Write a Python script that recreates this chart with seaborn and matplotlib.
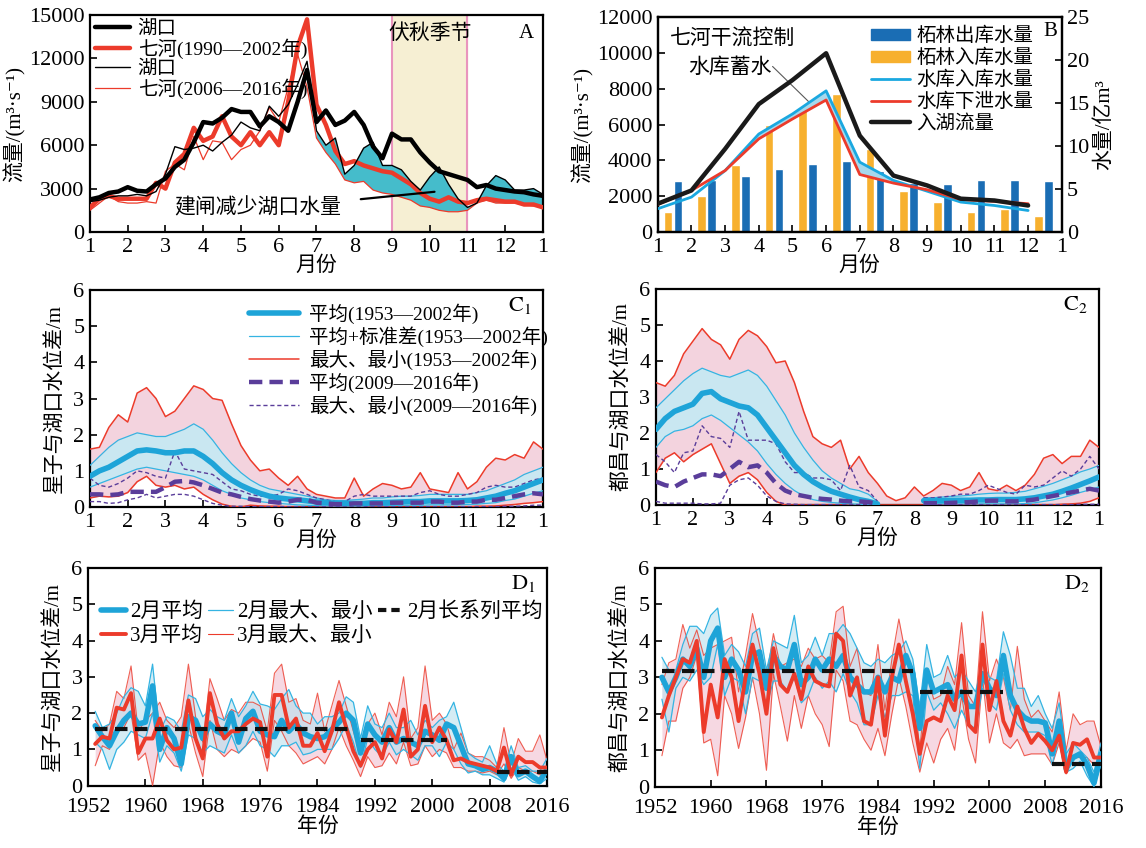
import numpy as np
import matplotlib
matplotlib.use("Agg")
import matplotlib.pyplot as plt
import seaborn as sns
from matplotlib.lines import Line2D
from matplotlib.patches import Patch

sns.set_theme(style="ticks")
plt.rcParams['font.family'] = ['Liberation Serif', 'Noto Sans CJK SC', 'DejaVu Sans']
plt.rcParams['mathtext.fontset'] = 'stix'
plt.rcParams['axes.unicode_minus'] = False
plt.rcParams['xtick.direction'] = 'in'
plt.rcParams['ytick.direction'] = 'in'
plt.rcParams['axes.edgecolor'] = 'black'
plt.rcParams['text.color'] = 'black'
plt.rcParams['axes.labelcolor'] = 'black'
plt.rcParams['xtick.color'] = 'black'
plt.rcParams['ytick.color'] = 'black'
plt.rcParams['axes.linewidth'] = 1.6

nan = np.nan

# ---------------- data ----------------
month_pos = [1.0, 1.25, 1.5, 1.75, 2.0, 2.25, 2.5, 2.75, 3.0, 3.25, 3.5, 3.75, 4.0, 4.25, 4.5, 4.75,
             5.0, 5.25, 5.5, 5.75, 6.0, 6.25, 6.5, 6.75, 7.0, 7.25, 7.5, 7.75, 8.0, 8.25, 8.5, 8.75,
             9.0, 9.25, 9.5, 9.75, 10.0, 10.25, 10.5, 10.75, 11.0, 11.25, 11.5, 11.75, 12.0, 12.25,
             12.5, 12.75, 13.0]
month_ticks = [1, 2, 3, 4, 5, 6, 7, 8, 9, 10, 11, 12, 13]
month_labels = ['1', '2', '3', '4', '5', '6', '7', '8', '9', '10', '11', '12', '1']

# Panel A (flow, m3/s)
hukou_90 = [2250, 2400, 2700, 2800, 3100, 2850, 2800, 3300, 3700, 4500, 5000, 6200, 7600, 7500, 7900, 8500,
            8300, 8300, 7300, 8000, 7600, 7000, 9000, 11200, 7600, 8400, 7400, 7700, 8300, 7400, 5900, 5100,
            6800, 6400, 6400, 5500, 4800, 4200, 4000, 3800, 3600, 3100, 3250, 3000, 2900, 2800, 2750, 2600, 2500]
qihe_90 = [1700, 2300, 2500, 2300, 2300, 2300, 2300, 3400, 3000, 4800, 5400, 7200, 6300, 6600, 8000, 6600,
           6000, 6900, 6000, 6900, 6000, 9000, 12800, 14700, 8800, 7400, 5600, 4700, 4900, 4600, 4400, 4200,
           4100, 3700, 3300, 2700, 2300, 2100, 2400, 2100, 2000, 2200, 2300, 2200, 2100, 2100, 1900, 1900, 1700]
hukou_06 = [2100, 2200, 2400, 2500, 2500, 2600, 2500, 2800, 4000, 5900, 5700, 5800, 6000, 5600, 6200, 6700,
            7600, 7200, 7000, 8700, 8000, 8800, 10200, 11800, 7000, 6000, 6500, 4000, 4600, 5800, 6200, 4600,
            4600, 4300, 3500, 2900, 3800, 4500, 3300, 2300, 1700, 2000, 3200, 3900, 3600, 2900, 2900, 3000, 2600]
qihe_06 = [1500, 2000, 2500, 2100, 2000, 2000, 2100, 2000, 4200, 4700, 4300, 6600, 5000, 6300, 6200, 5000,
           5700, 6000, 7000, 8600, 7600, 10000, 12300, 10000, 6500, 5500, 4700, 3600, 3400, 3500, 2900, 2700,
           2600, 2400, 2200, 1800, 1700, 1500, 1400, 1400, 1500, 2000, 2200, 2000, 2000, 2000, 1900, 1800, 1800]

# Panel B
months_b = [1, 2, 3, 4, 5, 6, 7, 8, 9, 10, 11, 12]
zl_out = [5.9, 6.05, 6.55, 7.3, 7.95, 8.25, 7.15, 5.7, 5.55, 6.1, 6.0, 5.9]      # 亿m3
zl_in = [2.3, 4.2, 7.8, 12.5, 14.2, 16.1, 9.7, 4.75, 3.5, 2.3, 2.65, 1.9]        # 亿m3
res_in = [1300, 1950, 3430, 5470, 6590, 7880, 3900, 2880, 2280, 1670, 1480, 1200]
res_out = [1540, 2320, 3430, 5200, 6310, 7370, 3210, 2730, 2360, 1820, 1710, 1580]
lake_in = [1580, 2320, 4640, 7140, 8480, 9980, 5380, 3150, 2600, 1860, 1760, 1480]

# Panel C1 (星子-湖口)
c1_max = [1.6, 1.65, 2.2, 2.55, 2.35, 3.15, 3.3, 3.0, 2.5, 2.65, 3.0, 3.35, 3.25, 3.0, 2.95, 2.3,
          1.7, 1.3, 1.0, 1.05, 0.8, 0.6, 0.85, 0.5, 0.35, 0.3, 0.25, 0.25, 0.8, 0.3, 0.5, 0.65,
          0.6, 0.5, 0.55, 0.95, 0.5, 0.45, 0.4, 0.95, 0.5, 0.7, 1.1, 1.35, 1.3, 1.45, 1.35, 1.8, 1.6]
c1_sdhi = [1.15, 1.4, 1.65, 1.85, 1.95, 2.05, 2.0, 1.95, 1.95, 2.05, 2.15, 2.3, 2.15, 1.85, 1.5, 1.2,
           0.95, 0.75, 0.6, 0.5, 0.45, 0.4, 0.35, 0.3, 0.25, 0.2, 0.18, 0.18, 0.2, 0.22, 0.25, 0.25,
           0.28, 0.3, 0.3, 0.32, 0.35, 0.35, 0.35, 0.35, 0.35, 0.4, 0.45, 0.55, 0.65, 0.75, 0.9, 1.0, 1.1]
c1_mean = [0.85, 1.0, 1.1, 1.25, 1.4, 1.55, 1.58, 1.55, 1.5, 1.5, 1.55, 1.55, 1.4, 1.2, 0.95, 0.75,
           0.6, 0.48, 0.38, 0.3, 0.25, 0.22, 0.2, 0.17, 0.14, 0.12, 0.1, 0.1, 0.1, 0.1, 0.12, 0.12,
           0.13, 0.14, 0.15, 0.15, 0.17, 0.17, 0.17, 0.17, 0.18, 0.2, 0.25, 0.3, 0.38, 0.45, 0.55, 0.65, 0.75]
c1_sdlo = [0.55, 0.65, 0.75, 0.85, 0.95, 1.05, 1.1, 1.05, 1.0, 0.95, 0.9, 0.85, 0.75, 0.6, 0.45, 0.35,
           0.25, 0.2, 0.15, 0.12, 0.1, 0.08, 0.06, 0.05, 0.04, 0.03, 0.03, 0.03, 0.03, 0.03, 0.04, 0.04,
           0.04, 0.05, 0.05, 0.05, 0.06, 0.06, 0.06, 0.06, 0.07, 0.08, 0.1, 0.12, 0.18, 0.22, 0.3, 0.38, 0.45]
c1_min = [0.25, 0.3, 0.28, 0.3, 0.4, 0.7, 0.85, 0.6, 0.55, 0.6, 0.5, 0.55, 0.35, 0.2, 0.08, 0.02,
          0.0, 0.05, 0.03, 0.02, 0.02, 0.0, 0.0, 0.0, 0.0, 0.0, 0.0, 0.0, 0.0, 0.0, 0.0, 0.0,
          0.0, 0.0, 0.0, 0.0, 0.0, 0.0, 0.0, 0.0, 0.0, 0.02, 0.02, 0.03, 0.05, 0.07, 0.1, 0.12, 0.15]
c1_pmean = [0.35, 0.35, 0.33, 0.35, 0.42, 0.42, 0.42, 0.42, 0.55, 0.7, 0.72, 0.68, 0.6, 0.5, 0.4, 0.35,
            0.28, 0.22, 0.18, 0.15, 0.12, 0.15, 0.2, 0.2, 0.12, 0.1, 0.08, 0.08, 0.1, 0.1, 0.1, 0.1,
            0.12, 0.12, 0.12, 0.12, 0.15, 0.15, 0.12, 0.12, 0.15, 0.15, 0.2, 0.2, 0.25, 0.3, 0.35, 0.38, 0.35]
c1_pmax = [0.8, 0.6, 0.55, 0.65, 0.8, 1.0, 0.95, 0.85, 0.8, 1.55, 1.05, 1.0, 0.95, 0.9, 0.7, 0.5,
           0.45, 0.35, 0.3, 0.3, 0.35, 0.5, 0.45, 0.35, 0.25, 0.2, 0.15, 0.15, 0.3, 0.35, 0.3, 0.3,
           0.3, 0.3, 0.3, 0.4, 0.45, 0.35, 0.3, 0.3, 0.35, 0.4, 0.55, 0.6, 0.55, 0.55, 0.65, 0.75, 0.8]
c1_pmin = [0.15, 0.15, 0.1, 0.12, 0.2, 0.25, 0.35, 0.25, 0.3, 0.35, 0.35, 0.3, 0.2, 0.1, 0.05, 0.02,
           0.02, 0.01, 0.01, 0.01, 0.01, 0.01, 0.01, 0.01, 0.01, 0.01, 0.01, 0.01, 0.01, 0.01, 0.01, 0.01,
           0.01, 0.01, 0.01, 0.01, 0.01, 0.01, 0.01, 0.01, 0.01, 0.01, 0.01, 0.01, 0.02, 0.02, 0.03, 0.05, 0.05]

# Panel C2 (都昌-湖口)
c2_max = [3.4, 3.3, 3.6, 4.2, 4.55, 4.9, 4.6, 4.45, 4.05, 4.6, 4.85, 4.7, 4.4, 3.95, 4.0, 3.4,
          2.6, 1.9, 1.7, 1.6, 1.8, 1.0, 1.35, 0.9, 0.6, 0.25, 0.12, 0.2, 0.5, 0.25, 0.4, 0.6,
          0.55, 0.4, 0.5, 0.9, 0.45, 0.4, 0.55, 0.4, 0.55, 0.85, 1.3, 1.4, 1.15, 1.35, 1.35, 1.8, 1.6]
c2_sdhi = [2.7, 2.95, 3.2, 3.45, 3.65, 3.8, 3.7, 3.6, 3.55, 3.65, 3.75, 3.6, 3.3, 2.9, 2.5, 2.0,
           1.6, 1.25, 0.95, 0.75, 0.6, 0.45, 0.4, 0.3, 0.1, nan, nan, nan, nan, 0.2, 0.2, 0.22,
           0.24, 0.25, 0.27, 0.3, 0.32, 0.33, 0.33, 0.35, 0.38, 0.45, 0.52, 0.6, 0.7, 0.8, 0.92, 1.0, 1.1]
c2_mean = [2.1, 2.4, 2.6, 2.7, 2.8, 3.1, 3.15, 2.95, 2.85, 2.75, 2.7, 2.5, 2.15, 1.8, 1.45, 1.1,
           0.85, 0.65, 0.5, 0.38, 0.3, 0.22, 0.15, 0.1, 0.03, nan, nan, nan, nan, 0.12, 0.12, 0.12,
           0.13, 0.13, 0.13, 0.14, 0.14, 0.15, 0.15, 0.15, 0.17, 0.2, 0.25, 0.3, 0.38, 0.47, 0.57, 0.67, 0.78]
c2_sdlo = [1.6, 1.9, 2.05, 2.1, 2.2, 2.4, 2.5, 2.35, 2.15, 1.95, 1.75, 1.5, 1.15, 0.85, 0.6, 0.4,
           0.25, 0.15, 0.1, 0.07, 0.05, 0.03, 0.02, 0.01, 0.0, nan, nan, nan, nan, 0.03, 0.03, 0.03,
           0.03, 0.03, 0.03, 0.03, 0.03, 0.03, 0.03, 0.03, 0.04, 0.06, 0.1, 0.14, 0.2, 0.27, 0.35, 0.42, 0.5]
c2_min = [0.9, 1.3, 1.45, 1.2, 1.4, 1.55, 1.7, 1.15, 0.6, 0.8, 0.9, 0.7, 0.35, 0.1, 0.0, 0.0,
          0.0, 0.0, 0.0, 0.0, 0.0, 0.0, 0.0, 0.0, 0.0, 0.0, 0.0, 0.0, 0.0, 0.0, 0.0, 0.0,
          0.0, 0.0, 0.0, 0.0, 0.0, 0.0, 0.0, 0.0, 0.0, 0.0, 0.0, 0.0, 0.02, 0.03, 0.05, 0.1, 0.2]
c2_pmean = [0.65, 0.55, 0.5, 0.65, 0.75, 0.85, 0.85, 0.8, 1.0, 1.2, 1.05, 1.1, 0.9, 0.6, 0.4, 0.3,
            0.25, 0.2, 0.17, 0.15, 0.12, 0.1, 0.1, 0.08, 0.03, nan, nan, nan, nan, 0.05, 0.05, 0.05,
            0.06, 0.07, 0.08, 0.1, 0.12, 0.12, 0.1, 0.1, 0.12, 0.15, 0.2, 0.25, 0.3, 0.35, 0.4, 0.45, 0.4]
c2_pmax = [1.4, 1.2, 0.9, 1.45, 1.5, 2.2, 1.9, 1.85, 1.6, 2.6, 1.8, 1.8, 1.8, 1.7, 1.2, 0.9,
           0.9, 0.75, 0.75, 0.7, 0.4, 1.1, 0.5, 0.4, 0.1, nan, nan, nan, nan, 0.2, 0.2, 0.22,
           0.25, 0.3, 0.3, 0.4, 0.55, 0.45, 0.35, 0.3, 0.55, 0.5, 0.55, 0.75, 0.95, 0.8, 1.0, 1.35, 1.0]
c2_pmin = [0.1, 0.05, 0.05, 0.05, 0.05, 0.03, 0.03, 0.05, 0.55, 0.7, 0.75, 0.55, 0.25, 0.1, 0.03, 0.02,
           0.01, 0.01, 0.01, 0.01, 0.01, 0.01, 0.01, 0.01, 0.01, nan, nan, nan, nan, 0.01, 0.01, 0.01,
           0.01, 0.01, 0.01, 0.01, 0.01, 0.01, 0.01, 0.01, 0.01, 0.01, 0.01, 0.01, 0.01, 0.01, 0.02, 0.02, 0.02]

# Panels D (yearly, 1953-2016)
years = list(range(1953, 2017))
d1_feb_mean = [1.65, 1.35, 1.1, 1.5, 1.8, 2.0, 1.7, 1.75,
               2.75, 1.0, 1.6, 1.3, 0.6, 1.9, 1.8, 1.3,
               1.7, 1.5, 1.4, 2.0, 1.2, 1.85, 2.05, 1.5,
               1.4, 1.35, 1.8, 1.5, 1.7, 1.45, 1.35, 1.3,
               1.35, 1.55, 1.75, 2.0, 1.8, 0.9, 1.7, 1.4,
               1.2, 1.6, 1.2, 1.3, 1.2, 1.1, 1.5, 1.4,
               1.25, 1.7, 1.6, 1.1, 0.6, 0.55, 0.45, 0.5,
               0.4, 0.2, 0.8, 0.3, 0.4, 0.25, 0.12, 0.45]
d1_feb_max = [2.05, 1.6, 1.7, 2.0, 2.45, 2.7, 2.6, 2.2,
              3.35, 1.5, 1.9, 1.8, 1.5, 2.5, 2.4, 1.9,
              2.1, 1.9, 1.8, 2.4, 1.9, 2.2, 2.6, 2.25,
              2.2, 2.1, 2.4, 2.65, 2.2, 2.0, 2.0, 1.7,
              1.9, 1.9, 2.0, 2.45, 2.3, 1.3, 2.2, 1.7,
              1.6, 2.0, 1.6, 1.6, 1.8, 1.4, 1.8, 1.6,
              1.8, 1.9, 2.3, 1.6, 0.9, 0.75, 0.65, 1.1,
              0.6, 0.4, 1.1, 0.5, 0.55, 0.4, 0.4, 0.75]
d1_feb_min = [1.2, 1.0, 0.45, 1.0, 1.2, 1.5, 1.4, 1.3,
              2.0, 0.65, 1.1, 0.9, 0.4, 1.4, 1.3, 0.9,
              1.1, 1.0, 0.9, 1.4, 0.9, 1.1, 1.5, 1.1,
              1.0, 0.8, 1.1, 1.1, 1.2, 0.85, 0.9, 1.0,
              1.0, 1.0, 1.3, 1.7, 1.2, 0.5, 1.3, 1.0,
              0.8, 1.2, 0.85, 1.0, 0.85, 0.7, 1.1, 1.1,
              0.8, 1.2, 1.0, 0.6, 0.35, 0.4, 0.3, 0.3,
              0.2, 0.1, 0.5, 0.15, 0.25, 0.1, 0.05, 0.2]
d1_mar_mean = [1.15, 1.35, 1.3, 2.15, 2.1, 2.55, 0.9, 1.3,
               1.3, 1.85, 1.25, 1.0, 1.05, 2.35, 1.3, 0.75,
               2.55, 1.7, 1.3, 1.5, 1.5, 1.7, 1.85, 1.75,
               0.8, 2.5, 2.5, 1.6, 1.85, 1.1, 1.1, 1.45,
               0.95, 1.5, 2.3, 1.6, 0.95, 0.55, 1.0, 1.2,
               0.75, 1.55, 1.2, 2.1, 0.8, 1.0, 2.2, 1.2,
               1.6, 1.25, 0.7, 0.75, 0.65, 0.6, 0.55, 0.5,
               0.4, 1.05, 0.3, 0.8, 0.65, 0.65, 0.5, 0.5]
d1_mar_max = [1.8, 1.5, 1.7, 2.6, 2.4, 3.3, 1.5, 1.8,
              2.0, 2.3, 1.8, 1.6, 1.9, 3.35, 1.9, 1.2,
              2.95, 2.4, 1.8, 2.1, 2.0, 2.3, 2.3, 2.2,
              1.5, 3.1, 3.35, 2.3, 2.4, 1.8, 1.7, 2.55,
              1.5, 2.2, 2.9, 2.2, 1.5, 0.85, 1.7, 2.0,
              1.4, 2.3, 1.9, 3.0, 1.3, 1.6, 3.3, 1.8,
              2.0, 1.7, 1.0, 1.45, 0.9, 0.8, 0.8, 0.7,
              0.5, 1.6, 0.6, 1.3, 0.95, 0.95, 1.4, 0.7]
d1_mar_min = [0.55, 1.1, 1.0, 1.6, 1.6, 2.0, 0.7, 0.9,
              0.0, 1.2, 0.8, 0.55, 0.5, 1.7, 0.9, 0.25,
              1.8, 1.0, 0.8, 1.0, 0.9, 1.1, 1.3, 1.2,
              0.4, 1.8, 1.5, 1.1, 0.9, 0.6, 0.7, 0.8,
              0.6, 1.0, 1.6, 1.1, 0.7, 0.25, 0.8, 0.5,
              0.55, 0.9, 0.6, 1.2, 0.55, 0.6, 1.1, 0.8,
              1.0, 0.9, 0.5, 0.5, 0.4, 0.4, 0.35, 0.4,
              0.3, 0.6, 0.2, 0.5, 0.4, 0.4, 0.3, 0.35]
d2_feb_mean = [3.0, 2.6, 3.0, 3.5, 3.3, 3.8, 3.0, 4.0,
               4.35, 3.0, 3.5, 3.2, 2.6, 3.6, 3.7, 2.7,
               3.6, 3.3, 3.2, 3.9, 2.8, 3.0, 3.5, 3.2,
               3.5, 3.3, 3.6, 3.0, 2.8, 2.6, 2.6, 3.0,
               2.6, 3.0, 2.9, 3.6, 3.1, 1.6, 3.2, 2.6,
               2.7, 2.8, 2.4, 2.6, 2.2, 2.2, 3.1, 2.7,
               2.5, 3.6, 2.5, 2.1, 1.9, 1.8, 1.8, 1.75,
               0.9, 1.8, 0.5, 0.8, 0.9, 0.6, 0.1, 0.9]
d2_feb_max = [3.55, 3.2, 3.2, 3.9, 4.4, 4.4, 4.2, 4.7,
              4.9, 3.6, 3.9, 3.7, 3.3, 4.2, 4.35, 3.2,
              4.0, 3.9, 3.8, 4.7, 3.4, 3.6, 4.1, 3.6,
              4.2, 4.2, 4.45, 4.2, 3.8, 3.4, 3.3, 3.5,
              3.4, 3.6, 3.7, 4.0, 3.5, 2.2, 3.9, 3.0,
              3.1, 3.6, 3.0, 3.2, 2.9, 2.6, 3.4, 3.0,
              2.9, 4.25, 3.6, 2.7, 2.7, 2.2, 2.5, 2.0,
              1.6, 2.3, 0.9, 1.2, 1.0, 0.8, 0.4, 1.2]
d2_feb_min = [2.4, 1.5, 2.7, 3.0, 2.9, 3.2, 2.8, 3.0,
              3.9, 2.5, 3.0, 2.9, 2.0, 3.0, 2.9, 2.2,
              2.9, 2.9, 2.6, 3.0, 2.3, 2.5, 3.0, 2.7,
              2.9, 2.6, 3.1, 2.6, 2.3, 1.7, 1.7, 2.5,
              1.9, 2.5, 2.5, 2.6, 2.5, 0.5, 2.6, 2.1,
              2.3, 2.0, 1.6, 2.1, 1.7, 1.6, 2.7, 2.3,
              2.1, 3.1, 2.1, 1.7, 1.5, 1.5, 1.5, 1.4,
              0.6, 1.4, 0.4, 0.5, 0.7, 0.3, 0.0, 0.6]
d2_mar_mean = [1.9, 2.5, 3.0, 3.5, 3.4, 4.0, 1.5, 2.8,
               1.9, 3.5, 3.0, 1.8, 3.0, 3.9, 3.1, 2.0,
               3.8, 2.8, 2.6, 3.1, 2.4, 3.3, 2.9, 2.8,
               2.75, 4.2, 4.0, 2.5, 3.0, 1.8, 1.7, 3.0,
               1.4, 3.0, 3.9, 2.9, 2.0, 0.9, 1.8, 1.9,
               1.8, 2.5, 2.1, 3.6, 1.7, 1.5, 3.9, 2.1,
               2.9, 1.8, 1.4, 2.2, 1.6, 1.2, 1.45, 1.25,
               1.0, 1.4, 0.4, 1.2, 1.15, 1.3, 0.8, 0.8]
d2_mar_max = [2.8, 3.4, 3.5, 4.45, 3.8, 4.3, 3.6, 3.8,
              3.9, 4.0, 4.1, 2.6, 3.6, 4.75, 3.9, 3.0,
              4.2, 3.3, 3.4, 3.5, 3.3, 3.8, 3.5, 3.6,
              3.4, 4.8, 4.95, 3.3, 3.8, 2.6, 2.5, 3.9,
              2.1, 3.5, 4.6, 3.6, 3.0, 1.0, 3.1, 2.4,
              2.5, 3.3, 2.8, 4.5, 2.5, 2.2, 4.8, 2.9,
              3.5, 3.0, 2.1, 3.85, 2.4, 1.9, 2.1, 1.8,
              1.5, 2.6, 1.0, 2.0, 1.7, 1.8, 1.8, 1.1]
d2_mar_min = [0.85, 1.8, 1.8, 2.7, 3.0, 3.6, 1.2, 1.3,
              0.3, 2.5, 2.0, 1.05, 1.9, 3.0, 2.0, 0.45,
              3.1, 2.2, 1.25, 2.5, 1.6, 2.5, 2.0, 1.7,
              1.1, 3.2, 2.9, 1.8, 1.7, 1.3, 1.0, 1.6,
              0.85, 2.0, 3.0, 2.2, 1.2, 0.4, 1.2, 0.65,
              1.3, 1.6, 1.0, 2.5, 1.3, 0.65, 3.0, 1.2,
              2.0, 1.2, 1.05, 1.3, 0.85, 0.9, 0.9, 0.9,
              0.6, 1.2, 0.35, 0.8, 0.8, 0.8, 0.6, 0.7]
seg_start = [1953, 1990, 2009]
seg_end = [1989, 2002, 2016]
d1_seg = [1.55, 1.27, 0.37]
d2_seg = [3.17, 2.6, 0.63]

# ---------------- styles ----------------
C_CYAN = '#1ea4d8'
C_CYAN_T = '#35b4e2'
C_LBLUE = '#c9e7f1'
C_RED = '#ec3b2b'
C_PINK = '#f3d3de'
C_PURP = '#5a3d9a'
C_TEAL = '#45bccb'
C_BLUE_BAR = '#1a6db4'
C_ORANGE = '#f7b02e'
TICK_FS = 16
LAB_FS = 15
LEG_FS = 14
FLOW_LABEL = '流量/(m³·s⁻¹)'


def line(ax, x, y, **kw):
    y = np.asarray(y, dtype=float)
    if np.isnan(y).any():
        ax.plot(x, y, **kw)
    else:
        sns.lineplot(x=x, y=y, ax=ax, estimator=None, sort=False, **kw)


def style_axes(ax, xpad=4):
    ax.tick_params(labelsize=TICK_FS, length=5, width=1.2, top=False, right=False, pad=4)
    ax.tick_params(axis='x', pad=xpad)
    for s in ax.spines.values():
        s.set_linewidth(1.6)
        s.set_color('black')


fig = plt.figure(figsize=(11.46, 8.48), dpi=100)

# ================= Panel A =================
axA = fig.add_axes([0.0785, 0.7264, 0.3953, 0.2559])
axA.axvspan(9, 11, color='#f6efd3', zorder=0)
axA.axvline(9, color='#e994bd', lw=1.5, zorder=1)
axA.axvline(11, color='#e994bd', lw=1.5, zorder=1)
xa = np.asarray(month_pos)
h06 = np.asarray(hukou_06, float)
q06 = np.asarray(qihe_06, float)
axA.fill_between(xa, h06, q06, where=(xa >= 7) & (h06 > q06), interpolate=True,
                 color=C_TEAL, zorder=2, lw=0)
line(axA, month_pos, hukou_90, color='black', lw=3.2, label='湖口', zorder=5)
line(axA, month_pos, qihe_90, color=C_RED, lw=3.2, label='七河(1990—2002年)', zorder=4)
line(axA, month_pos, hukou_06, color='black', lw=1.0, label='湖口', zorder=6)
line(axA, month_pos, qihe_06, color=C_RED, lw=0.9, label='七河(2006—2016年)', zorder=3)
axA.annotate('', xy=(10.2, 2800), xytext=(8.1, 2250),
             arrowprops=dict(arrowstyle='-', color='black', lw=1.6), zorder=7)
axA.text(5.45, 1650, '建闸减少湖口水量', ha='center', va='center', fontsize=LEG_FS + 1)
axA.text(10.0, 13700, '伏秋季节', ha='center', va='center', fontsize=LEG_FS + 1)
axA.text(12.75, 13700, 'A', ha='right', va='center', fontsize=LEG_FS + 1)
axA.set_xlim(1, 13)
axA.set_ylim(0, 15000)
axA.set_xticks(month_ticks)
axA.set_xticklabels(month_labels)
axA.set_yticks([0, 3000, 6000, 9000, 12000, 15000])
axA.set_ylabel(FLOW_LABEL, fontsize=LAB_FS, labelpad=2)
axA.set_xlabel('月份', fontsize=LAB_FS, labelpad=0)
style_axes(axA)
axA.legend(loc='upper left', frameon=False, fontsize=LEG_FS, handlelength=1.8,
           labelspacing=0.05, borderaxespad=0.15, handletextpad=0.4, borderpad=0.1)

# ================= Panel B =================
axB = fig.add_axes([0.574, 0.7264, 0.3525, 0.2535])
axB2 = axB.twinx()
mb = np.asarray(months_b, float)
axB2.bar(mb + 0.3, zl_in, width=0.26, color=C_ORANGE, zorder=2)
axB2.bar(mb + 0.6, zl_out, width=0.26, color=C_BLUE_BAR, zorder=2)
axB2.set_ylim(0, 25)
axB2.set_yticks([0, 5, 10, 15, 20, 25])
axB2.set_ylabel('水量/亿m³', fontsize=LAB_FS, labelpad=4)
axB2.tick_params(labelsize=TICK_FS, length=5, width=1.2, direction='in')
axB.set_zorder(axB2.get_zorder() + 1)
axB.patch.set_visible(False)
ri = np.asarray(res_in, float)
ro = np.asarray(res_out, float)
axB.fill_between(mb, ri, ro, where=ri > ro, interpolate=True, color='#a6d8ec', lw=0, zorder=2)
line(axB, months_b, lake_in, color='#1a1a1a', lw=3.2, zorder=5)
line(axB, months_b, res_in, color='#1aa8e0', lw=2.0, zorder=4)
line(axB, months_b, res_out, color=C_RED, lw=2.0, zorder=4)
axB.text(1.35, 10750, '七河干流控制', ha='left', va='center', fontsize=LEG_FS + 1)
axB.text(1.9, 9150, '水库蓄水', ha='left', va='center', fontsize=LEG_FS + 1)
axB.annotate('', xy=(5.55, 7150), xytext=(4.35, 9350),
             arrowprops=dict(arrowstyle='-', color='0.35', lw=0.8))
axB.set_xlim(1, 13)
axB.set_ylim(0, 12000)
axB.set_xticks(month_ticks)
axB.set_xticklabels(month_labels)
axB.set_yticks([0, 2000, 4000, 6000, 8000, 10000, 12000])
axB.set_ylabel(FLOW_LABEL, fontsize=LAB_FS, labelpad=2)
axB.set_xlabel('月份', fontsize=LAB_FS, labelpad=0)
style_axes(axB)
handlesB = [Patch(color=C_BLUE_BAR), Patch(color=C_ORANGE),
            Line2D([], [], color='#1aa8e0', lw=2.0), Line2D([], [], color=C_RED, lw=2.0),
            Line2D([], [], color='#1a1a1a', lw=3.2)]
labelsB = ['柘林出库水量', '柘林入库水量', '水库入库水量', '水库下泄水量', '入湖流量']
axB.legend(handlesB, labelsB, loc='upper left', bbox_to_anchor=(0.5, 1.01), frameon=False,
           fontsize=LEG_FS, handlelength=2.0, handleheight=0.5, labelspacing=0.18,
           handletextpad=0.3, borderpad=0.1)
axB.text(0.99, 0.935, 'B', transform=axB.transAxes, ha='right', va='center', fontsize=LEG_FS + 1)


# ================= Panels C =================
def panel_c(ax, vmax, sdhi, mean, sdlo, vmin, pmean, pmax, pmin, tag, legend):
    xm = np.asarray(month_pos)
    ax.fill_between(xm, np.asarray(vmax, float), np.asarray(vmin, float), color=C_PINK, lw=0, zorder=1)
    ax.fill_between(xm, np.asarray(sdhi, float), np.asarray(sdlo, float), color=C_LBLUE, lw=0, zorder=2)
    line(ax, month_pos, vmax, color=C_RED, lw=1.1, zorder=3)
    line(ax, month_pos, vmin, color=C_RED, lw=1.1, zorder=3)
    line(ax, month_pos, sdhi, color=C_CYAN_T, lw=0.9, zorder=4)
    line(ax, month_pos, sdlo, color=C_CYAN_T, lw=0.9, zorder=4)
    line(ax, month_pos, pmax, color=C_PURP, lw=1.0, ls=(0, (3, 2)), zorder=5)
    line(ax, month_pos, pmin, color=C_PURP, lw=1.0, ls=(0, (3, 2)), zorder=5)
    line(ax, month_pos, mean, color=C_CYAN, lw=4.0, zorder=6)
    line(ax, month_pos, pmean, color=C_PURP, lw=3.2, ls=(0, (3, 1.6)), zorder=7)
    ax.set_xlim(1, 13)
    ax.set_ylim(0, 6)
    ax.set_xticks(month_ticks)
    ax.set_xticklabels(month_labels)
    ax.set_yticks([0, 1, 2, 3, 4, 5, 6])
    ax.set_xlabel('月份', fontsize=LAB_FS, labelpad=0)
    style_axes(ax)
    ax.text(0.975, 0.93, tag, transform=ax.transAxes, ha='right', va='center', fontsize=LEG_FS + 2)
    if legend:
        hs = [Line2D([], [], color=C_CYAN, lw=4.0), Line2D([], [], color=C_CYAN_T, lw=0.9),
              Line2D([], [], color=C_RED, lw=1.1), Line2D([], [], color=C_PURP, lw=3.2, ls=(0, (3, 1.6))),
              Line2D([], [], color=C_PURP, lw=1.0, ls=(0, (3, 2)))]
        ls_ = ['平均(1953—2002年)', '平均+标准差(1953—2002年)', '最大、最小(1953—2002年)',
               '平均(2009—2016年)', '最大、最小(2009—2016年)']
        ax.legend(hs, ls_, loc='upper left', bbox_to_anchor=(0.32, 1.0), frameon=False,
                  fontsize=LEG_FS, handlelength=2.6, labelspacing=0.12, handletextpad=0.5,
                  borderpad=0.2)


axC1 = fig.add_axes([0.0785, 0.4021, 0.3953, 0.2559])
panel_c(axC1, c1_max, c1_sdhi, c1_mean, c1_sdlo, c1_min, c1_pmean, c1_pmax, c1_pmin,
        r'$\mathrm{C_1}$', True)
axC1.set_ylabel('星子与湖口水位差/m', fontsize=LAB_FS, labelpad=6)

axC2 = fig.add_axes([0.5724, 0.4045, 0.3866, 0.2547])
panel_c(axC2, c2_max, c2_sdhi, c2_mean, c2_sdlo, c2_min, c2_pmean, c2_pmax, c2_pmin,
        r'$\mathrm{C_2}$', False)
axC2.set_ylabel('都昌与湖口水位差/m', fontsize=LAB_FS, labelpad=6)


# ================= Panels D =================
def panel_d(ax, fmean, fmax, fmin, mmean, mmax, mmin, seg, tag, legend):
    yr = np.asarray(years)
    ax.fill_between(yr, np.asarray(mmax, float), np.asarray(mmin, float), color='#f0bfd0', alpha=0.6, lw=0, zorder=1)
    ax.fill_between(yr, np.asarray(fmax, float), np.asarray(fmin, float), color='#b9e0ee', alpha=0.6, lw=0, zorder=2)
    line(ax, years, mmax, color=C_RED, lw=0.8, alpha=0.8, zorder=3)
    line(ax, years, mmin, color=C_RED, lw=0.8, alpha=0.8, zorder=3)
    line(ax, years, fmax, color=C_CYAN_T, lw=0.9, zorder=4)
    line(ax, years, fmin, color=C_CYAN_T, lw=0.9, zorder=4)
    line(ax, years, fmean, color=C_CYAN, lw=4.0, zorder=5)
    line(ax, years, mmean, color=C_RED, lw=2.8, zorder=6)
    for s0, s1, v in zip(seg_start, seg_end, seg):
        ax.plot([s0, s1], [v, v], color='#111111', lw=3.0, ls=(0, (3, 1.8)), zorder=7)
    ax.set_xlim(1952, 2016)
    ax.set_ylim(0, 6)
    ax.set_xticks(list(range(1952, 2017, 8)))
    ax.set_yticks([0, 1, 2, 3, 4, 5, 6])
    ax.set_xlabel('年份', fontsize=LAB_FS, labelpad=0)
    style_axes(ax, xpad=9)
    ax.text(0.975, 0.93, tag, transform=ax.transAxes, ha='right', va='center', fontsize=LEG_FS + 2)
    if legend:
        hs = [Line2D([], [], color=C_CYAN, lw=4.0), Line2D([], [], color=C_RED, lw=2.8),
              Line2D([], [], color=C_CYAN_T, lw=0.9), Line2D([], [], color=C_RED, lw=0.8),
              Line2D([], [], color='#111111', lw=3.0, ls=(0, (2, 1.2)))]
        ls_ = ['2月平均', '3月平均', '2月最大、最小', '3月最大、最小', '2月长系列平均']
        ax.legend(hs, ls_, loc='upper left', bbox_to_anchor=(0.0, 0.9), ncol=3, frameon=False,
                  fontsize=LEG_FS + 1, handlelength=1.2, columnspacing=0.25, handletextpad=0.2,
                  labelspacing=0.2, borderpad=0.1)


axD1 = fig.add_axes([0.0768, 0.0735, 0.4005, 0.2567])
panel_d(axD1, d1_feb_mean, d1_feb_max, d1_feb_min, d1_mar_mean, d1_mar_max, d1_mar_min,
        d1_seg, r'$\mathrm{D_1}$', True)
axD1.set_ylabel('星子与湖口水位差/m', fontsize=LAB_FS, labelpad=6)

axD2 = fig.add_axes([0.5715, 0.0723, 0.3892, 0.2579])
panel_d(axD2, d2_feb_mean, d2_feb_max, d2_feb_min, d2_mar_mean, d2_mar_max, d2_mar_min,
        d2_seg, r'$\mathrm{D_2}$', False)
axD2.set_ylabel('都昌与湖口水位差/m', fontsize=LAB_FS, labelpad=6)

fig.savefig('out.png', dpi=100)
